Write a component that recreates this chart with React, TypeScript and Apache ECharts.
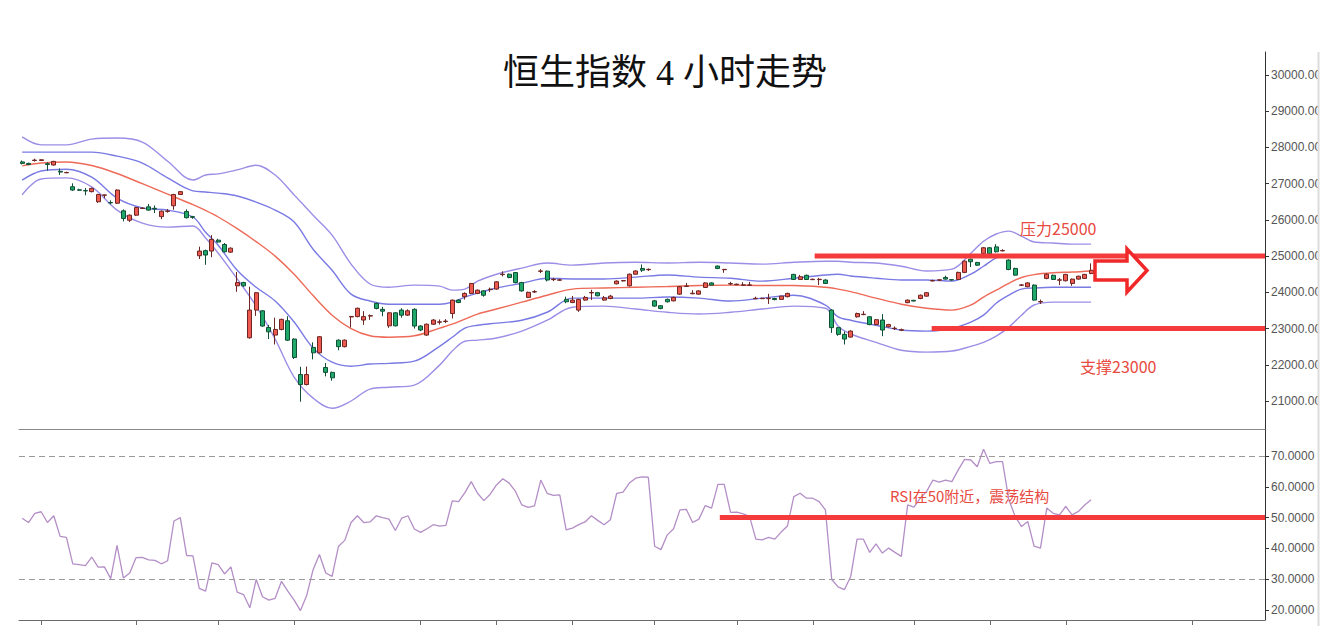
import React, { useEffect, useRef } from "react";
import * as echarts from "echarts";

// ---------- data ----------
const CATEGORY_COUNT = 197;
const categories: string[] = Array.from({ length: CATEGORY_COUNT }, (_, i) => `K${i + 1}`);
const tickIndices = [3, 18, 31, 43, 63, 75, 87, 100, 113, 125, 141, 153, 165, 185];

// 4-hour candles: [open, close, low, high]
const candles: number[][] = [
  [27600, 27560, 27530, 27640], [27560, 27530, 27510, 27580], [27640, 27650, 27610, 27690], [27640, 27660, 27630, 27670],
  [27550, 27530, 27360, 27590], [27515, 27615, 27500, 27630], [27340, 27320, 27240, 27420], [27300, 27310, 27290, 27330],
  [26915, 26825, 26800, 27010], [26830, 26820, 26800, 26860], [26810, 26800, 26680, 26880], [26780, 26870, 26760, 26890],
  [26500, 26700, 26470, 26720], [26680, 26690, 26600, 26700], [26480, 26470, 26430, 26540], [26460, 26825, 26440, 26840],
  [26250, 26040, 25960, 26290], [25990, 26130, 25940, 26150], [26130, 26340, 26110, 26360], [26315, 26325, 26300, 26350],
  [26360, 26270, 26250, 26440], [26320, 26300, 26190, 26400], [26090, 26240, 26020, 26260], [26235, 26245, 26200, 26300],
  [26390, 26700, 26280, 26720], [26700, 26780, 26690, 26790], [26230, 26060, 26040, 26290], [26090, 26070, 26030, 26110],
  [25010, 25140, 24920, 25260], [25150, 25030, 24760, 25180], [25140, 25460, 24970, 25580], [25440, 25390, 25370, 25480],
  [25320, 25120, 25100, 25360], [25110, 25220, 25090, 25240], [24180, 24270, 24015, 24560], [24270, 24180, 24150, 24290],
  [22745, 23510, 22720, 24155], [23510, 23990, 23350, 24010], [23490, 23070, 23050, 23510], [23030, 22910, 22710, 23100],
  [22820, 22975, 22560, 23300], [22975, 23255, 22950, 23270], [23215, 22680, 22660, 23340], [22710, 22200, 22160, 22730],
  [21730, 21455, 20980, 21945], [21455, 21730, 21430, 21950], [22480, 22330, 22150, 22620], [22330, 22775, 22310, 22790],
  [21925, 21790, 21680, 22050], [21790, 21640, 21560, 21810], [22680, 22500, 22400, 22700], [22500, 22680, 22480, 22700],
  [23320, 23335, 23030, 23340], [23330, 23560, 23310, 23580], [23235, 23330, 23100, 23480], [23345, 23355, 23240, 23390],
  [23695, 23555, 23530, 23720], [23530, 23480, 23340, 23600], [23075, 23435, 23020, 23450], [23435, 23075, 23060, 23450],
  [23510, 23370, 23300, 23560], [23370, 23490, 23350, 23530], [23530, 23070, 23000, 23560], [23070, 22960, 22930, 23090],
  [22820, 23120, 22800, 23140], [23120, 23235, 23100, 23260], [23175, 23185, 23110, 23250], [23195, 23205, 23150, 23260],
  [23415, 23785, 23280, 23800], [23785, 23720, 23700, 23810], [23880, 23970, 23800, 24000], [23970, 24245, 23950, 24260],
  [23970, 24060, 23950, 24080], [24040, 23920, 23880, 24060], [24075, 24085, 24010, 24130], [24090, 24290, 24070, 24310],
  [24490, 24500, 24440, 24580], [24500, 24410, 24390, 24520], [24545, 24270, 24250, 24560], [24270, 24040, 24020, 24290],
  [23860, 24000, 23840, 24020], [24010, 24020, 23980, 24060], [24580, 24590, 24530, 24640], [24585, 24340, 24300, 24600],
  [24350, 24360, 24310, 24400], [24335, 24345, 24320, 24370], [23805, 23740, 23700, 23880], [23720, 23785, 23700, 23900],
  [23510, 23805, 23460, 23820], [23785, 23860, 23770, 23900], [23985, 23995, 23790, 24070], [23990, 23905, 23890, 24010],
  [23785, 23850, 23770, 23900], [23830, 23895, 23810, 23930], [24235, 24310, 24220, 24330], [24315, 24325, 24300, 24340],
  [24180, 24500, 24160, 24520], [24500, 24590, 24490, 24610], [24660, 24610, 24560, 24770], [24625, 24635, 24590, 24660],
  [23765, 23620, 23600, 23790], [23630, 23555, 23530, 23650], [23805, 23740, 23720, 23830], [23765, 23860, 23750, 23880],
  [23950, 24155, 23930, 24170], [24165, 24175, 24160, 24260], [23960, 23975, 23950, 24060], [23950, 24040, 23930, 24060],
  [24135, 24260, 24120, 24280], [24260, 24200, 24190, 24280], [24725, 24660, 24640, 24740], [24625, 24635, 24540, 24640],
  [24230, 24240, 24200, 24290], [24210, 24225, 24200, 24240], [24195, 24205, 24180, 24280], [24195, 24205, 24180, 24290],
  [23825, 23835, 23810, 23880], [23825, 23835, 23815, 23850], [23825, 23835, 23680, 23960], [23830, 23800, 23780, 23850],
  [23805, 23895, 23790, 23910], [23880, 23970, 23860, 23990], [24495, 24355, 24340, 24510], [24355, 24430, 24340, 24480],
  [24470, 24355, 24340, 24490], [24350, 24360, 24340, 24380], [24350, 24360, 24200, 24400], [24340, 24245, 24230, 24360],
  [23510, 23025, 22880, 23530], [23025, 22840, 22800, 23040], [22840, 22710, 22560, 22920], [22765, 22930, 22750, 22950],
  [23325, 23415, 23300, 23440], [23385, 23395, 23370, 23480], [23325, 23110, 23090, 23340], [23110, 23245, 23090, 23260],
  [23235, 22960, 22790, 23400], [23050, 23110, 23030, 23130], [23000, 23010, 22960, 23060], [22955, 22965, 22930, 23000],
  [23715, 23785, 23700, 23800], [23780, 23760, 23750, 23790], [23830, 23920, 23810, 23940], [23895, 23990, 23880, 24010],
  [24315, 24325, 24300, 24350], [24335, 24345, 24320, 24360], [24410, 24365, 24350, 24460], [24350, 24340, 24320, 24360],
  [24355, 24550, 24340, 24570], [24550, 24860, 24530, 24880], [24915, 24845, 24700, 24930], [24825, 24750, 24730, 24840],
  [25075, 25230, 25060, 25250], [25230, 25065, 25050, 25250], [25255, 25120, 25100, 25330], [25145, 25155, 25130, 25190],
  [24890, 24630, 24610, 24910], [24660, 24475, 24460, 24680], [24195, 24205, 24180, 24230], [24155, 24260, 24140, 24280],
  [24200, 23785, 23770, 24220], [23735, 23745, 23680, 23800], [24385, 24500, 24360, 24520], [24470, 24355, 24340, 24490],
  [24335, 24345, 24200, 24400], [24320, 24495, 24300, 24510], [24245, 24365, 24180, 24380], [24365, 24445, 24350, 24460],
  [24385, 24495, 24370, 24510], [24520, 24610, 24500, 24800],
];

// band lines read at these candle indices
const bandIdx = [0, 3, 7, 11, 15, 19, 23, 27, 29, 31, 34, 37, 40, 43, 46, 49, 52, 55, 58, 62, 66, 68, 70, 72, 75, 79, 83, 87, 92, 97,
  102, 107, 112, 117, 122, 127, 129, 131, 135, 139, 143, 147, 150, 152, 154, 156, 158, 160, 163, 166, 169];
const bandOuterUpper = [28290, 28070, 28070, 28230, 28260, 28150, 27620, 27100, 27240, 27270, 27380, 27510, 27240, 26690, 26130, 25580,
  24780, 24230, 24140, 24200, 24170, 24060, 24090, 24310, 24500, 24670, 24810, 24750, 24810, 24830, 24810, 24830, 24810, 24780, 24830,
  24860, 24860, 24830, 24810, 24720, 24590, 24640, 25080, 25410, 25610, 25690, 25550, 25390, 25360, 25330, 25330];
const bandInnerUpper = [27870, 27870, 27870, 27870, 27760, 27570, 27160, 26800, 26770, 26740, 26660, 26490, 26270, 25940, 25190, 24610,
  23950, 23760, 23670, 23670, 23670, 23730, 23870, 23980, 24120, 24250, 24390, 24370, 24370, 24420, 24480, 24420, 24390, 24310, 24390,
  24480, 24500, 24450, 24390, 24340, 24340, 24310, 24500, 24720, 24950, 25030, 25000, 25000, 25000, 25000, 25000];
const bandMiddle = [27490, 27570, 27600, 27500, 27280, 27000, 26710, 26420, 26260, 26080, 25760, 25400, 25000, 24500, 23910, 23370,
  23000, 22800, 22760, 22800, 23010, 23120, 23260, 23400, 23540, 23730, 23920, 24090, 24120, 24140, 24160, 24190, 24200, 24190, 24190,
  24140, 24090, 24020, 23840, 23670, 23560, 23510, 23650, 23870, 24060, 24250, 24410, 24490, 24540, 24560, 24590];
const bandInnerLower = [27100, 27350, 27400, 27180, 26600, 26330, 26270, 26080, 25660, 25300, 24610, 24140, 23760, 23180, 22460, 22070,
  21960, 22020, 22040, 22100, 22510, 22760, 23010, 23090, 23150, 23230, 23450, 23840, 23840, 23840, 23870, 23840, 23760, 23840, 23920,
  23650, 23320, 23230, 23090, 22960, 22930, 23010, 23180, 23370, 23700, 23920, 24090, 24120, 24140, 24140, 24140];
const bandOuterLower = [26690, 27130, 27160, 26910, 26270, 25910, 25800, 25830, 25500, 25080, 24370, 23620, 22710, 21660, 21080, 20800,
  21000, 21330, 21380, 21440, 21990, 22380, 22650, 22680, 22740, 22930, 23230, 23590, 23620, 23540, 23450, 23400, 23450, 23540, 23620,
  23560, 23070, 22850, 22620, 22400, 22350, 22380, 22510, 22620, 22790, 23040, 23370, 23650, 23730, 23730, 23730];

const rsi = [49.8, 48.4, 51.4, 51.9, 48.4, 50.6, 43.9, 43.6, 35.0, 34.7, 34.4, 37.2, 33.9, 34.0, 30.2, 41.0, 30.4, 32.0, 37.0, 37.1,
  36.3, 36.1, 35.0, 36.0, 48.9, 50.0, 37.7, 37.6, 27.0, 26.1, 35.3, 34.7, 31.7, 34.0, 25.8, 25.0, 20.7, 29.9, 24.3, 23.2,
  23.8, 29.3, 26.1, 23.2, 19.8, 24.8, 33.1, 38.0, 32.0, 30.9, 40.6, 42.6, 48.4, 50.6, 48.4, 48.6, 50.6, 50.0, 49.5, 45.8,
  49.8, 50.6, 46.3, 45.2, 46.4, 47.7, 47.2, 47.5, 55.4, 55.2, 58.1, 61.7, 57.9, 55.5, 57.6, 60.6, 62.6, 61.2, 58.5, 54.1,
  53.3, 53.8, 62.2, 57.9, 57.2, 57.4, 46.0, 46.6, 47.7, 48.6, 50.6, 49.1, 47.7, 49.3, 57.9, 58.3, 61.2, 62.8, 63.2, 63.1,
  40.7, 39.6, 44.4, 46.4, 52.5, 52.7, 48.4, 49.5, 53.9, 53.1, 60.8, 60.8, 51.7, 51.8, 51.2, 50.4, 43.0, 42.8, 43.6, 43.0,
  45.3, 47.3, 56.8, 57.9, 56.3, 56.3, 55.2, 52.5, 29.9, 27.5, 26.6, 30.9, 43.0, 43.0, 38.7, 41.5, 38.5, 40.1, 38.7, 37.4,
  54.1, 53.4, 56.3, 58.5, 62.2, 61.5, 62.2, 61.7, 65.5, 68.9, 68.7, 66.5, 72.2, 67.6, 68.2, 68.2, 55.8, 50.4, 47.1, 48.7,
  40.7, 40.1, 53.1, 51.4, 50.9, 53.6, 50.9, 52.0, 54.1, 55.8];

const priceTicks = [21000, 22000, 23000, 24000, 25000, 26000, 27000, 28000, 29000, 30000];
const rsiTicks = [20, 30, 40, 50, 60, 70];
const rsiBands = [70, 30];

// annotation levels (x in candle-index units)
const resistanceLine = [[125.3, 25000], [196.5, 25000]];
const supportLine = [[143.8, 23000], [196.5, 23000]];
const rsiMidLine = [[110.3, 50], [196.5, 50]];

const TITLE = "恒生指数 4 小时走势";
const NOTE_RES = "压力25000";
const NOTE_SUP = "支撑23000";
const NOTE_RSI = "RSI在50附近，震荡结构";

// ---------- chart ----------
const RED = "#f43a3a";
const NOTE_COLOR = "#e84a3f";
const CJK = "'Noto Sans CJK SC', 'Noto Sans', sans-serif";

function bandSeries(name: string, values: number[], color: string, width: number) {
  return {
    name,
    type: "line",
    xAxisIndex: 0,
    yAxisIndex: 0,
    data: bandIdx.map((idx, k) => [idx, values[k]]),
    smooth: 0.35,
    symbol: "none",
    silent: true,
    z: 3,
    lineStyle: { color, width },
  };
}

function levelSeries(data: number[][], xAxisIndex: number, yAxisIndex: number) {
  return {
    type: "line",
    xAxisIndex,
    yAxisIndex,
    data,
    symbol: "none",
    silent: true,
    z: 6,
    lineStyle: { color: RED, width: 5, cap: "butt" },
  };
}

export default function App() {
  const ref = useRef<HTMLDivElement | null>(null);

  useEffect(() => {
    if (!ref.current) return;
    const chart = echarts.init(ref.current, null, { renderer: "svg" });

    const grids = [
      { left: 19, right: 65, top: 52, height: 377 },
      { left: 19, right: 65, top: 429, height: 191 },
    ];

    const option: any = {
      animation: false,
      backgroundColor: "#ffffff",
      title: {
        text: TITLE,
        left: "center",
        top: 50,
        textStyle: {
          fontSize: 36,
          fontWeight: "normal",
          color: "#111111",
          fontFamily: "'Liberation Serif', 'Noto Sans CJK SC', serif",
        },
      },
      grid: grids,
      xAxis: [
        {
          type: "category",
          gridIndex: 0,
          data: categories,
          boundaryGap: true,
          axisLine: { show: true, onZero: false, lineStyle: { color: "#8a8a8a", width: 1 } },
          axisTick: { show: false },
          axisLabel: { show: false },
          splitLine: { show: false },
        },
        {
          type: "category",
          gridIndex: 1,
          data: categories,
          boundaryGap: true,
          axisLine: { show: true, onZero: false, lineStyle: { color: "#6a6a6a", width: 1 } },
          axisTick: {
            show: true,
            alignWithLabel: true,
            interval: (index: number) => tickIndices.includes(index),
            length: 5,
            lineStyle: { color: "#6a6a6a" },
          },
          axisLabel: { show: false },
          splitLine: { show: false },
        },
        { type: "value", gridIndex: 0, min: -0.5, max: CATEGORY_COUNT - 0.5, show: false, axisLine: { onZero: false } },
        { type: "value", gridIndex: 1, min: -0.5, max: CATEGORY_COUNT - 0.5, show: false, axisLine: { onZero: false } },
      ],
      yAxis: [
        {
          type: "value",
          gridIndex: 0,
          position: "right",
          min: 20227,
          max: 30635,
          axisLine: { show: true, onZero: false, lineStyle: { color: "#333333" } },
          axisTick: { show: true, length: 4, customValues: priceTicks, lineStyle: { color: "#333333" } },
          axisLabel: {
            customValues: priceTicks,
            formatter: (v: number) => v.toFixed(2),
            color: "#555555",
            fontSize: 12,
            margin: 6,
            fontFamily: "'Liberation Sans', Arial, sans-serif",
          },
          splitLine: { show: false },
        },
        {
          type: "value",
          gridIndex: 1,
          position: "right",
          min: 16.75,
          max: 78.77,
          axisLine: { show: true, onZero: false, lineStyle: { color: "#333333" } },
          axisTick: { show: true, length: 4, customValues: rsiTicks, lineStyle: { color: "#333333" } },
          axisLabel: {
            customValues: rsiTicks,
            formatter: (v: number) => v.toFixed(4),
            color: "#555555",
            fontSize: 12,
            margin: 6,
            fontFamily: "'Liberation Sans', Arial, sans-serif",
          },
          splitLine: { show: false },
        },
      ],
      series: [
        bandSeries("outerUpper", bandOuterUpper, "#9c8ee6", 1.4),
        bandSeries("innerUpper", bandInnerUpper, "#7a7ae4", 1.4),
        bandSeries("middle", bandMiddle, "#ee6a58", 1.4),
        bandSeries("innerLower", bandInnerLower, "#7a7ae4", 1.4),
        bandSeries("outerLower", bandOuterLower, "#9c8ee6", 1.4),
        {
          name: "HSI",
          type: "candlestick",
          xAxisIndex: 0,
          yAxisIndex: 0,
          data: candles,
          barWidth: 4.5,
          z: 4,
          silent: true,
          itemStyle: {
            color: "#ee5a50",
            color0: "#1fa86a",
            borderColor: "#6e2622",
            borderColor0: "#0f5034",
            borderWidth: 1,
          },
        },
        {
          name: "RSI",
          type: "line",
          xAxisIndex: 1,
          yAxisIndex: 1,
          data: rsi,
          symbol: "none",
          silent: true,
          z: 4,
          lineStyle: { color: "#b48ec6", width: 1.3 },
          markLine: {
            silent: true,
            symbol: ["none", "none"],
            label: { show: false },
            lineStyle: { type: [6, 4], color: "#9a9a9a", width: 1 },
            data: rsiBands.map((v) => ({ yAxis: v })),
          },
        },
        levelSeries(resistanceLine, 2, 0),
        levelSeries(supportLine, 2, 0),
        levelSeries(rsiMidLine, 3, 1),
      ],
      graphic: [
        {
          type: "text",
          left: 1020,
          top: 220,
          z: 50,
          style: { text: NOTE_RES, fill: NOTE_COLOR, fontSize: 16, fontFamily: CJK },
        },
        {
          type: "text",
          left: 1080,
          top: 358,
          z: 50,
          style: { text: NOTE_SUP, fill: NOTE_COLOR, fontSize: 16, fontFamily: CJK },
        },
        {
          type: "text",
          left: 890,
          top: 488,
          z: 50,
          style: { text: NOTE_RSI, fill: NOTE_COLOR, fontSize: 15, fontFamily: CJK },
        },
        {
          type: "polygon",
          z: 50,
          shape: {
            points: [
              [1095, 261], [1127, 261], [1127, 249], [1147, 270.5], [1127, 292], [1127, 280], [1095, 280],
            ],
          },
          style: { fill: "#ffffff", stroke: "#f0282a", lineWidth: 3.5, lineJoin: "miter" },
        },
        {
          type: "rect",
          z: 90,
          shape: { x: 1318, y: 0, width: 12, height: 630 },
          style: { fill: "#ffffff" },
        },
        {
          type: "line",
          z: 91,
          shape: { x1: 1318.5, y1: 52, x2: 1318.5, y2: 626 },
          style: { stroke: "#dcdcdc", lineWidth: 2 },
        },
      ],
    };

    chart.setOption(option);
    return () => {
      chart.dispose();
    };
  }, []);

  return (
    <div
      ref={ref}
      style={{ position: "fixed", left: 0, top: 0, width: 1330, height: 630, background: "#ffffff" }}
    />
  );
}
